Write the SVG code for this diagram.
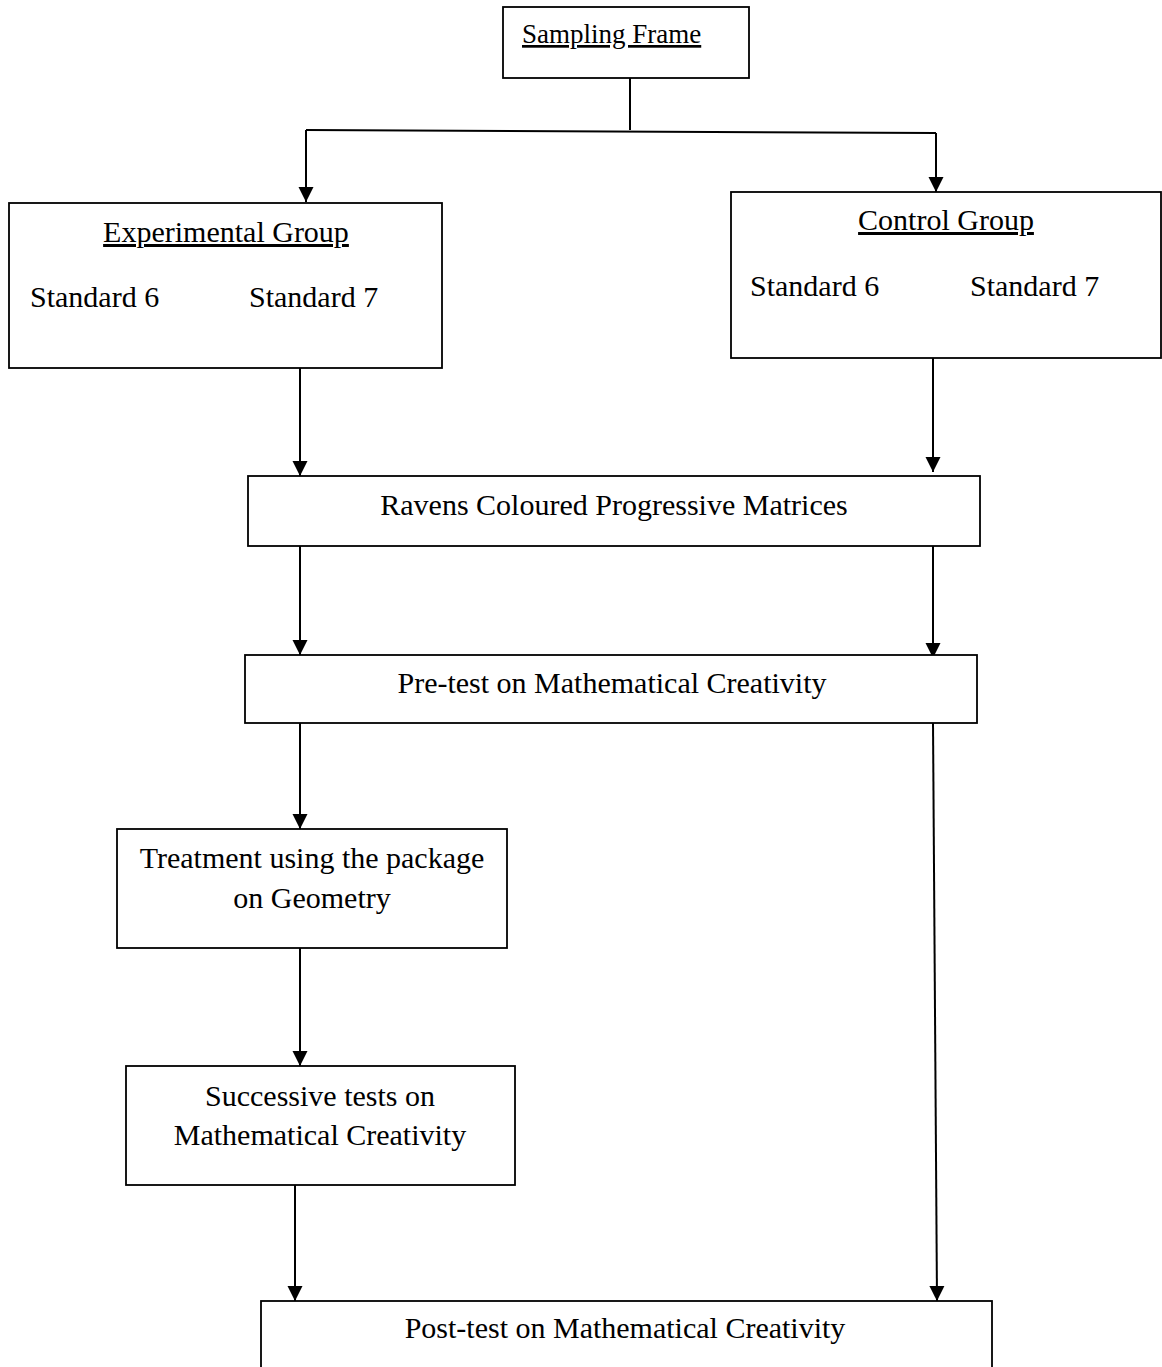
<svg xmlns="http://www.w3.org/2000/svg" width="1162" height="1367" viewBox="0 0 1162 1367">
  <style>
    .box { fill: #fff; stroke: #000; stroke-width: 1.8; }
    .lbl { font-family: "Liberation Serif", "Times New Roman", serif; font-size: 30px; fill: #000; }
    .mid { text-anchor: middle; }
    .ul { text-decoration: underline; }
    .wire { fill: none; stroke: #000; stroke-width: 2; }
  </style>
  <defs>
    <marker id="arrow" markerUnits="userSpaceOnUse" markerWidth="17" markerHeight="17" viewBox="0 0 17 17" refX="16" refY="8.5" orient="auto">
      <path d="M1,1 L16,8.5 L1,16 Z" fill="#000"/>
    </marker>
  </defs>
  <rect width="1162" height="1367" fill="#fff"/>

  <!-- connectors -->
  <g id="connectors">
    <path class="wire" d="M630,78 V130"/>
    <path class="wire" d="M306,130 L936,133"/>
    <path class="wire" d="M306,130 V202" marker-end="url(#arrow)"/>
    <path class="wire" d="M936,133 V192" marker-end="url(#arrow)"/>
    <path class="wire" d="M300,368 V476" marker-end="url(#arrow)"/>
    <path class="wire" d="M933,358 V472" marker-end="url(#arrow)"/>
    <path class="wire" d="M300,546 V655" marker-end="url(#arrow)"/>
    <path class="wire" d="M933,546 V658" marker-end="url(#arrow)"/>
    <path class="wire" d="M300,723 V829" marker-end="url(#arrow)"/>
    <path class="wire" d="M933,723 L937,1301" marker-end="url(#arrow)"/>
    <path class="wire" d="M300,948 V1066" marker-end="url(#arrow)"/>
    <path class="wire" d="M295,1185 V1301" marker-end="url(#arrow)"/>
  </g>

  <!-- nodes -->
  <g id="sampling-frame">
    <rect class="box" x="503" y="7" width="246" height="71"/>
    <text class="lbl ul" x="522" y="43" style="font-size:27px">Sampling Frame</text>
  </g>

  <g id="experimental-group">
    <rect class="box" x="9" y="203" width="433" height="165"/>
    <text class="lbl ul mid" x="226" y="242">Experimental Group</text>
    <text class="lbl" x="30" y="307">Standard 6</text>
    <text class="lbl" x="249" y="307">Standard 7</text>
  </g>

  <g id="control-group">
    <rect class="box" x="731" y="192" width="430" height="166"/>
    <text class="lbl ul mid" x="946" y="230">Control Group</text>
    <text class="lbl" x="750" y="296">Standard 6</text>
    <text class="lbl" x="970" y="296">Standard 7</text>
  </g>

  <g id="ravens">
    <rect class="box" x="248" y="476" width="732" height="70"/>
    <text class="lbl mid" x="614" y="515">Ravens Coloured Progressive Matrices</text>
  </g>

  <g id="pre-test">
    <rect class="box" x="245" y="655" width="732" height="68"/>
    <text class="lbl mid" x="612" y="693">Pre-test on Mathematical Creativity</text>
  </g>

  <g id="treatment">
    <rect class="box" x="117" y="829" width="390" height="119"/>
    <text class="lbl mid" x="312" y="868">Treatment using the package</text>
    <text class="lbl mid" x="312" y="908">on Geometry</text>
  </g>

  <g id="successive-tests">
    <rect class="box" x="126" y="1066" width="389" height="119"/>
    <text class="lbl mid" x="320" y="1106">Successive tests on</text>
    <text class="lbl mid" x="320" y="1145">Mathematical Creativity</text>
  </g>

  <g id="post-test">
    <rect class="box" x="261" y="1301" width="731" height="80"/>
    <text class="lbl mid" x="625" y="1338">Post-test on Mathematical Creativity</text>
  </g>
</svg>
